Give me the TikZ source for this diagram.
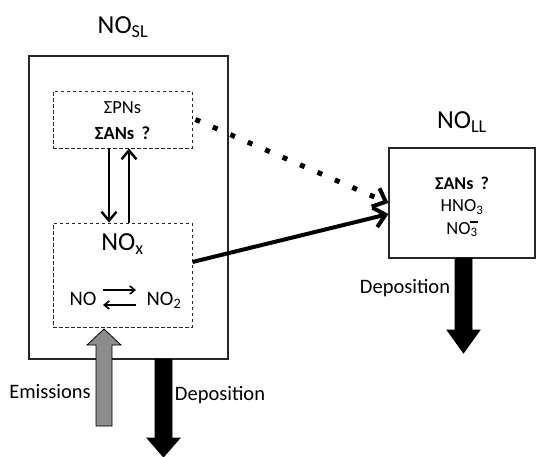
\documentclass[tikz,border=0pt]{standalone}
\usepackage{fontspec}
\setmainfont{Carlito}
\usetikzlibrary{arrows.meta}
\begin{document}
\begin{tikzpicture}[x=1pt,y=-1pt,
  solidbox/.style={draw=black!85, line width=1.2pt, fill=white, inner sep=0pt},
  dashbox/.style={draw=black!85, line width=0.9pt, dash pattern=on 3.5pt off 2.5pt, inner sep=0pt},
  lbl/.style={inner sep=0pt, font=\fontsize{20.5}{23}\selectfont},
  title/.style={inner sep=0pt, font=\fontsize{26}{30}\selectfont},
  small/.style={inner sep=0pt, font=\fontsize{18.5}{21}\selectfont},
  vflow/.style={line width=2.4pt, -{Straight Barb[length=9pt,width=15pt,line width=2.4pt]}},
  bigflow/.style={line width=4pt, -{Straight Barb[length=11pt,width=20pt,line width=4pt]}},
  dotflow/.style={line width=5pt, dash pattern=on 5pt off 14pt, -{Straight Barb[length=11pt,width=20pt,line width=4pt]}},
  harp/.style={line width=1.6pt, -{Straight Barb[length=5pt,width=8pt,line width=1.6pt]}},
  bigarrow/.style={draw=black, line width=0.8pt}
]
\useasboundingbox (0,0) rectangle (536,456);

% boxes
\node[solidbox, minimum width=199pt, minimum height=303pt] (sl) at (128.5,207.5) {};
\node[dashbox, minimum width=139pt, minimum height=57pt] (pn) at (122.5,119.5) {};
\node[dashbox, minimum width=139pt, minimum height=104pt] (nox) at (122.5,275) {};
\node[solidbox, minimum width=146pt, minimum height=110pt] (ll) at (462,203) {};

% titles
\node[title] (tsl) at (123,27) {NO\textsubscript{SL}};
\node[title] (tll) at (462,122) {NO\textsubscript{LL}};

% texts in top dashed box
\node[small] (pns) at (122.5,108) {ΣPNs};
\node[small, font=\fontsize{18.5}{21}\selectfont\bfseries] (ans1) at (122.5,133) {ΣANs\, ?};

% NOx box
\node[title] (noxt) at (122.5,244) {NO\textsubscript{x}};
\node[lbl] (no) at (83,299) {NO};
\node[lbl] (no2) at (164,300) {NO\textsubscript{2}};
\coordinate (h1a) at (103,290);
\coordinate (h1b) at (136,290);
\coordinate (h2a) at (136,305);
\coordinate (h2b) at (103,305);
\draw[harp] (h1a) -- (h1b);
\draw[harp] (h2a) -- (h2b);

% NO_LL texts
\node[small, font=\fontsize{18}{21}\selectfont\bfseries] (ans2) at (462,183) {ΣANs\, ?};
\node[small, font=\fontsize{18.5}{21}\selectfont] (hno3) at (462,207) {HNO\textsubscript{3}};
\node[small, font=\fontsize{18.5}{21}\selectfont] (no3) at (462,229) {NO\textsubscript{3}\llap{\raisebox{0.62em}{\rule{0.42em}{0.07em}}}};

% labels
\node[lbl] (dep2) at (405,288) {Deposition};
\node[lbl] (dep1) at (220,395) {Deposition};
\node[lbl] (emi) at (50,392) {Emissions};

% vertical arrows between boxes
\draw[vflow] ([xshift=-13.5pt]pn.south) -- ([xshift=-13.5pt]nox.north);
\draw[vflow] ([xshift=6.5pt]nox.north) -- ([xshift=6.5pt]pn.south);

% arrows to NO_LL
\draw[bigflow] ([yshift=13pt]nox.east) -- ([yshift=-11pt]ll.west);
\draw[dotflow] ([xshift=3pt]pn.east) -- ([yshift=0pt]ll.west);

% big block arrows
\filldraw[bigarrow, fill=black] (155,359) -- (155,438) -- (147,438) -- (163.5,457) -- (180,438) -- (172,438) -- (172,359) -- cycle;
\filldraw[bigarrow, fill=black] (455,258) -- (455,330) -- (447,330) -- (463.5,353) -- (480,330) -- (472,330) -- (472,258) -- cycle;
\filldraw[bigarrow, fill=black!45] (96,426) -- (96,345) -- (87,345) -- (104,329) -- (121,345) -- (112,345) -- (112,426) -- cycle;
\end{tikzpicture}
\end{document}
